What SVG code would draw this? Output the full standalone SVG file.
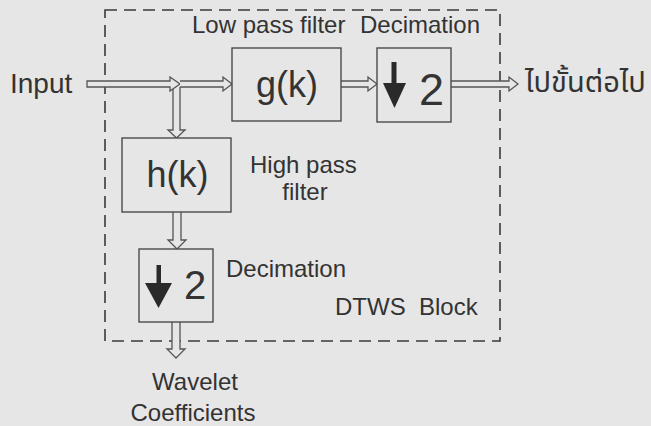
<svg xmlns="http://www.w3.org/2000/svg" width="651" height="426" viewBox="0 0 651 426">
<style>
  .t { font-family: "Liberation Sans", Arial, sans-serif; fill: #333; }
  .box { fill: #e6e6e6; stroke: #4a4a4a; stroke-width: 1.4; }
  .arr { fill: #e6e6e6; stroke: #555; stroke-width: 1.3; stroke-linejoin: miter; }
  .dash { fill: none; stroke: #3a3a3a; stroke-width: 1.6; stroke-dasharray: 12 7; }
  .glyph { fill: #2a2a2a; }
</style>
<rect width="651" height="426" fill="#e6e6e6"/>
<rect id="dtws-block" class="dash" x="105" y="10" width="395" height="331"/>
<g id="connectors">
  <path class="arr" d="M173,87 L173,130 L168,130 L176.5,138 L185,130 L180,130 L180,87"/>
  <path class="arr" d="M87,81 L170,81 L170,77 L180,84 L170,91 L170,87 L87,87 Z"/>
  <path class="arr" d="M180,81 L223,81 L223,77 L232,84 L223,91 L223,87 L180,87"/>
  <path class="arr" d="M341,81 L368,81 L368,77 L377,84 L368,91 L368,87 L341,87"/>
  <path class="arr" d="M451,81 L509,81 L509,77 L518,84 L509,91 L509,87 L451,87"/>
  <path class="arr" d="M173,212 L173,240 L168,240 L177,249 L186,240 L181,240 L181,212"/>
  <path class="arr" d="M172,322 L172,349 L167,349 L176,358 L185,349 L180,349 L180,322"/>
</g>
<g id="g-filter">
  <rect class="box" x="232" y="48" width="109" height="73"/>
  <text class="t" x="287" y="97" font-size="36" text-anchor="middle">g(k)</text>
</g>
<g id="decim-top">
  <rect class="box" x="377" y="48" width="74" height="74"/>
  <rect class="glyph" x="391.5" y="62" width="5" height="23"/>
  <polygon class="glyph" points="383,83 406,83 394.5,108"/>
  <text class="t" x="431.5" y="105" font-size="45" text-anchor="middle">2</text>
</g>
<g id="h-filter">
  <rect class="box" x="122" y="138" width="109" height="74"/>
  <text class="t" x="177.5" y="187" font-size="36" text-anchor="middle">h(k)</text>
</g>
<g id="decim-bottom">
  <rect class="box" x="139" y="249" width="74" height="73"/>
  <rect class="glyph" x="156.5" y="265" width="4.5" height="19"/>
  <polygon class="glyph" points="145,283 172,283 158.5,308"/>
  <text class="t" x="195" y="299" font-size="40" text-anchor="middle">2</text>
</g>
<g id="labels">
  <text class="t" x="10" y="93" font-size="28">Input</text>
  <text class="t" x="192" y="33" font-size="24">Low pass filter</text>
  <text class="t" x="360" y="33" font-size="24">Decimation</text>
  <text class="t" x="250" y="173" font-size="24">High pass</text>
  <text class="t" x="305" y="200" font-size="24" text-anchor="middle">filter</text>
  <text class="t" x="226" y="277" font-size="24">Decimation</text>
  <text class="t" x="335" y="315" font-size="24" style="white-space:pre">DTWS  Block</text>
  <text class="t" x="195" y="390" font-size="24" text-anchor="middle">Wavelet</text>
  <text class="t" x="193" y="421" font-size="24" text-anchor="middle">Coefficients</text>
  <text class="t" x="525" y="92" font-size="29" style="font-family:'Noto Sans Thai','Noto Sans','DejaVu Sans',sans-serif">ไปขั้นต่อไป</text>
</g>
</svg>
